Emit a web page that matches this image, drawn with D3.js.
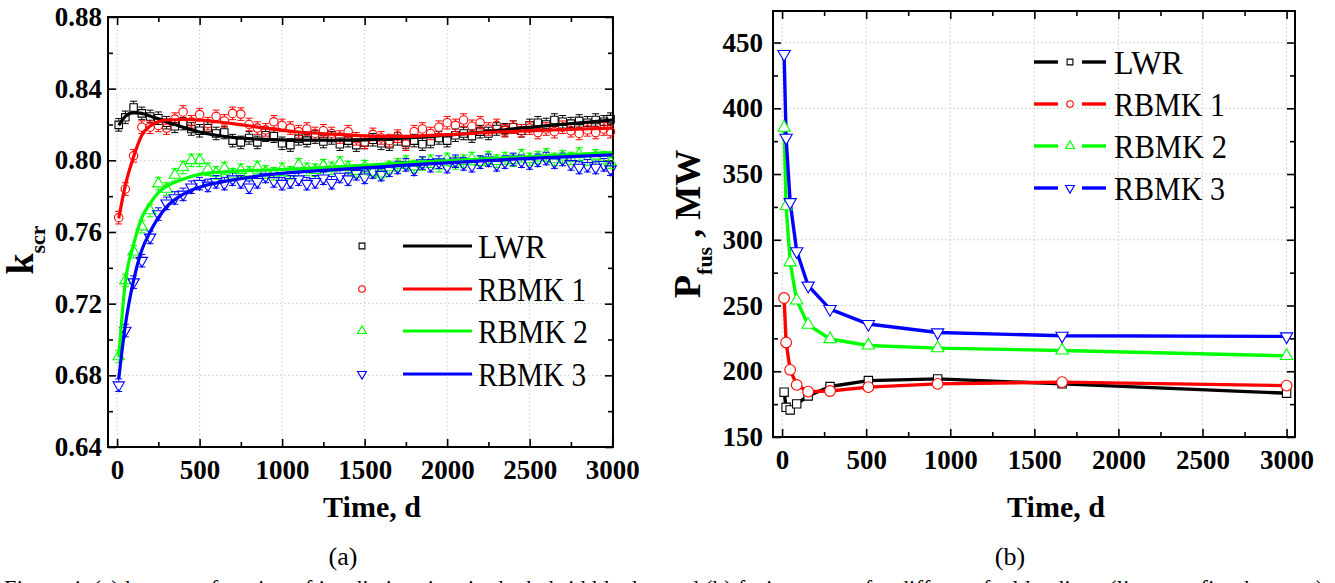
<!DOCTYPE html>
<html>
<head>
<meta charset="utf-8">
<script src="https://cdn.jsdelivr.net/npm/d3@7"></script>
<style>
  body { margin: 0; background: #fff; }
  svg { display: block; }
</style>
</head>
<body>
<svg id="chart" width="1335" height="583"></svg>
<script>
// series shared by both panels
const seriesNames = ['LWR', 'RBMK 1', 'RBMK 2', 'RBMK 3'];
const seriesColors = ['#000000', '#ff0000', '#00ff00', '#0000ff'];
const seriesMarkers = ['square', 'circle', 'up', 'down'];

// panel (a): k_scr vs time, calculated points (+/- error) and fitted curves
const kTime = [10, 50, 100, 150, 200, 250, 300, 350, 400, 450, 500, 550, 600, 650, 700, 750, 800, 850, 900, 950,
  1000, 1050, 1100, 1150, 1200, 1250, 1300, 1350, 1400, 1450, 1500, 1550, 1600, 1650, 1700, 1750, 1800, 1850, 1900, 1950,
  2000, 2050, 2100, 2150, 2200, 2250, 2300, 2350, 2400, 2450, 2500, 2550, 2600, 2650, 2700, 2750, 2800, 2850, 2900, 2950, 2990];
const kLWR = [0.8198, 0.8240, 0.8295, 0.8262, 0.8245, 0.8235, 0.8210, 0.8190, 0.8205, 0.8175, 0.8165, 0.8180, 0.8150, 0.8155, 0.8110, 0.8100, 0.8125, 0.8100, 0.8140, 0.8135,
  0.8095, 0.8085, 0.8120, 0.8110, 0.8130, 0.8105, 0.8125, 0.8090, 0.8110, 0.8085, 0.8100, 0.8115, 0.8095, 0.8090, 0.8120, 0.8100, 0.8110, 0.8090, 0.8105, 0.8125,
  0.8110, 0.8140, 0.8150, 0.8135, 0.8160, 0.8150, 0.8175, 0.8170, 0.8185, 0.8165, 0.8195, 0.8210, 0.8200, 0.8225, 0.8215, 0.8205, 0.8220, 0.8210, 0.8225, 0.8215, 0.8230];
const kRBMK1 = [0.7680, 0.7840, 0.8025, 0.8185, 0.8185, 0.8195, 0.8180, 0.8230, 0.8270, 0.8215, 0.8255, 0.8205, 0.8245, 0.8220, 0.8262, 0.8258, 0.8200, 0.8180, 0.8170, 0.8215,
  0.8195, 0.8180, 0.8160, 0.8175, 0.8150, 0.8165, 0.8150, 0.8130, 0.8160, 0.8120, 0.8100, 0.8145, 0.8125, 0.8110, 0.8135, 0.8090, 0.8160, 0.8175, 0.8150, 0.8185,
  0.8210, 0.8195, 0.8225, 0.8190, 0.8210, 0.8175, 0.8195, 0.8165, 0.8185, 0.8165, 0.8180, 0.8155, 0.8175, 0.8160, 0.8185, 0.8165, 0.8150, 0.8170, 0.8155, 0.8175, 0.8160];
const kRBMK2 = [0.6905, 0.7330, 0.7490, 0.7630, 0.7720, 0.7870, 0.7840, 0.7918, 0.7960, 0.8000, 0.8000, 0.7950, 0.7930, 0.7955, 0.7920, 0.7945, 0.7930, 0.7960, 0.7935, 0.7925,
  0.7950, 0.7930, 0.7975, 0.7950, 0.7945, 0.7970, 0.7955, 0.7985, 0.7960, 0.7940, 0.7965, 0.7935, 0.7925, 0.7960, 0.7975, 0.7990, 0.7965, 0.7980, 0.7995, 0.7970,
  0.8005, 0.7985, 0.7995, 0.8010, 0.7990, 0.8015, 0.7995, 0.8010, 0.8000, 0.8025, 0.8005, 0.8015, 0.8030, 0.8005, 0.8020, 0.8010, 0.8035, 0.8005, 0.8025, 0.8015, 0.7990];
const kRBMK3 = [0.6745, 0.7050, 0.7320, 0.7440, 0.7570, 0.7700, 0.7760, 0.7790, 0.7810, 0.7850, 0.7870, 0.7860, 0.7880, 0.7870, 0.7895, 0.7880, 0.7850, 0.7880, 0.7910, 0.7885,
  0.7870, 0.7880, 0.7895, 0.7870, 0.7880, 0.7900, 0.7875, 0.7910, 0.7895, 0.7925, 0.7905, 0.7935, 0.7920, 0.7945, 0.7960, 0.7975, 0.7950, 0.7985, 0.7970, 0.7990,
  0.7965, 0.7995, 0.7980, 0.7970, 0.7990, 0.8000, 0.7975, 0.7990, 0.8005, 0.7995, 0.7985, 0.8000, 0.8010, 0.7990, 0.8005, 0.7980, 0.7960, 0.7970, 0.7960, 0.7975, 0.7950];
const kError = 0.0035;

const fitTime = [10, 50, 100, 150, 200, 250, 300, 400, 500, 700, 900, 1100, 1300, 1500, 1700, 2000, 2300, 2600, 3000];
const fitLWR = [0.8195, 0.8245, 0.8266, 0.8262, 0.8248, 0.8232, 0.8215, 0.8185, 0.8158, 0.8128, 0.8117, 0.8113, 0.8112, 0.8114, 0.8122, 0.8140, 0.8166, 0.8193, 0.8225];
const fitRBMK1 = [0.7676, 0.7860, 0.8020, 0.8140, 0.8192, 0.8215, 0.8225, 0.8228, 0.8225, 0.8205, 0.8180, 0.8158, 0.8146, 0.8137, 0.8134, 0.8143, 0.8158, 0.8168, 0.8180];
const fitRBMK2 = [0.6900, 0.7320, 0.7530, 0.7680, 0.7760, 0.7820, 0.7855, 0.7895, 0.7922, 0.7938, 0.7946, 0.7953, 0.7962, 0.7972, 0.7983, 0.7997, 0.8011, 0.8025, 0.8043];
const fitRBMK3 = [0.6780, 0.7080, 0.7330, 0.7500, 0.7600, 0.7680, 0.7740, 0.7810, 0.7850, 0.7890, 0.7918, 0.7935, 0.7947, 0.7958, 0.7970, 0.7986, 0.8002, 0.8015, 0.8030];

// panel (b): fusion power vs time
const pTime = [12, 24, 48, 87, 155, 285, 513, 925, 1665, 3000];
const pLWR = [184.1, 172.6, 170.6, 175.2, 181.2, 188.4, 192.9, 194.2, 190.4, 183.3];
const pRBMK1 = [255.7, 221.9, 201.1, 189.6, 184.5, 185.0, 187.9, 190.4, 191.7, 189.1];
const pRBMK2 = [385.3, 325.5, 282.9, 253.9, 235.4, 224.5, 219.6, 217.6, 215.8, 211.7];
const pRBMK3 = [441.2, 377.6, 328.6, 291.2, 265.1, 247.3, 235.9, 229.5, 227.0, 226.5];

// ticks
const timeTicks = [0, 500, 1000, 1500, 2000, 2500, 3000];
const timeMinor = [250, 750, 1250, 1750, 2250, 2750];
const kTicks = [0.64, 0.68, 0.72, 0.76, 0.80, 0.84, 0.88];
const kMinor = [0.66, 0.70, 0.74, 0.78, 0.82, 0.86];
const pTicks = [150, 200, 250, 300, 350, 400, 450];
const pMinor = [175, 225, 275, 325, 375, 425];

const serif = "'Liberation Serif', 'Times New Roman', serif";
const svg = d3.select('#chart');

function markerPath(kind, size) {
  if (kind === 'square') return d3.symbol(d3.symbolSquare, size)();
  if (kind === 'circle') return d3.symbol(d3.symbolCircle, size)();
  return d3.symbol(d3.symbolTriangle, size)();
}

function addMarker(g, kind, cx, cy, size, color, fill) {
  g.append('path')
    .attr('d', markerPath(kind, size))
    .attr('transform', `translate(${cx},${cy})` + (kind === 'down' ? ' rotate(180)' : ''))
    .attr('fill', fill)
    .attr('stroke', color)
    .attr('stroke-width', 1.1);
}

function drawFrame(g, x, y, o) {
  var x0 = x.range()[0], x1 = x.range()[1];
  var y0 = y.range()[0], y1 = y.range()[1];

  // dotted grid at major ticks
  g.append('g').selectAll('line').data(o.xTicks).join('line')
    .attr('x1', d => x(d)).attr('x2', d => x(d))
    .attr('y1', y0).attr('y2', y1)
    .attr('stroke', '#c8c8c8').attr('stroke-dasharray', '1.5,2.5');
  g.append('g').selectAll('line').data(o.yTicks).join('line')
    .attr('x1', x0).attr('x2', x1)
    .attr('y1', d => y(d)).attr('y2', d => y(d))
    .attr('stroke', '#c8c8c8').attr('stroke-dasharray', '1.5,2.5');

  var styleAxis = a => {
    a.select('.domain').remove();
    a.selectAll('line').attr('stroke-width', 1.6);
    a.attr('font-family', serif).attr('font-size', o.fontSize).attr('font-weight', 'bold');
  };

  g.append('g').attr('transform', `translate(0,${y0})`)
    .call(d3.axisBottom(x).tickValues(o.xTicks).tickSizeInner(-8).tickSizeOuter(0).tickPadding(o.xPad).tickFormat(d3.format('d')))
    .call(styleAxis);
  g.append('g').attr('transform', `translate(0,${y0})`)
    .call(d3.axisBottom(x).tickValues(o.xMinor).tickSize(-5).tickFormat(''))
    .call(styleAxis);
  g.append('g').attr('transform', `translate(0,${y1})`)
    .call(d3.axisTop(x).tickValues(o.xTicks).tickSize(-8).tickFormat(''))
    .call(styleAxis);
  g.append('g').attr('transform', `translate(0,${y1})`)
    .call(d3.axisTop(x).tickValues(o.xMinor).tickSize(-5).tickFormat(''))
    .call(styleAxis);

  g.append('g').attr('transform', `translate(${x0},0)`)
    .call(d3.axisLeft(y).tickValues(o.yTicks).tickSizeInner(-8).tickSizeOuter(0).tickPadding(o.yPad).tickFormat(o.yFormat))
    .call(styleAxis);
  g.append('g').attr('transform', `translate(${x0},0)`)
    .call(d3.axisLeft(y).tickValues(o.yMinor).tickSize(-5).tickFormat(''))
    .call(styleAxis);
  g.append('g').attr('transform', `translate(${x1},0)`)
    .call(d3.axisRight(y).tickValues(o.yTicks).tickSize(-8).tickFormat(''))
    .call(styleAxis);
  g.append('g').attr('transform', `translate(${x1},0)`)
    .call(d3.axisRight(y).tickValues(o.yMinor).tickSize(-5).tickFormat(''))
    .call(styleAxis);

  g.append('rect')
    .attr('x', x0).attr('y', y1)
    .attr('width', x1 - x0).attr('height', y0 - y1)
    .attr('fill', 'none').attr('stroke', '#000').attr('stroke-width', 2);
}

// ---------- panel (a) ----------
var xA = d3.scaleLinear().domain([-55, 3005]).range([108, 613]);
var yA = d3.scaleLinear().domain([0.64, 0.88]).range([447, 17]);
var gA = svg.append('g');

drawFrame(gA, xA, yA, {
  xTicks: timeTicks, xMinor: timeMinor, yTicks: kTicks, yMinor: kMinor,
  yFormat: d3.format('.2f'), fontSize: 27, xPad: 13, yPad: 6
});

var kPoints = [kLWR, kRBMK1, kRBMK2, kRBMK3];
var kFits = [fitLWR, fitRBMK1, fitRBMK2, fitRBMK3];
var markA = 56;

kPoints.forEach((vals, i) => {
  var g = gA.append('g');
  var color = seriesColors[i];
  vals.forEach((v, j) => {
    var cx = xA(kTime[j]), cy = yA(v);
    var top = yA(v + kError), bot = yA(v - kError);
    g.append('line').attr('x1', cx).attr('x2', cx).attr('y1', top).attr('y2', cy - 4)
      .attr('stroke', color).attr('stroke-width', 1);
    g.append('line').attr('x1', cx).attr('x2', cx).attr('y1', cy + 4).attr('y2', bot)
      .attr('stroke', color).attr('stroke-width', 1);
    g.append('line').attr('x1', cx - 3.5).attr('x2', cx + 3.5).attr('y1', top).attr('y2', top)
      .attr('stroke', color).attr('stroke-width', 1);
    g.append('line').attr('x1', cx - 3.5).attr('x2', cx + 3.5).attr('y1', bot).attr('y2', bot)
      .attr('stroke', color).attr('stroke-width', 1);
    addMarker(g, seriesMarkers[i], cx, cy, markA, color, 'none');
  });
});

var fitLine = d3.line()
  .x((d, j) => xA(fitTime[j]))
  .y(d => yA(d))
  .curve(d3.curveMonotoneX);

kFits.forEach((vals, i) => {
  gA.append('path')
    .attr('d', fitLine(vals))
    .attr('fill', 'none')
    .attr('stroke', seriesColors[i])
    .attr('stroke-width', 3.2);
});

// legend (a)
var legA = [246, 289, 331, 374];
seriesNames.forEach((name, i) => {
  addMarker(gA, seriesMarkers[i], 362, legA[i], 34, seriesColors[i], 'none');
  gA.append('line')
    .attr('x1', 403).attr('x2', 472).attr('y1', legA[i]).attr('y2', legA[i])
    .attr('stroke', seriesColors[i]).attr('stroke-width', 3.2);
  gA.append('text')
    .attr('x', 478).attr('y', legA[i] + 11.5)
    .attr('font-family', serif).attr('font-size', 34)
    .attr('textLength', [68, 108, 110, 108][i]).attr('lengthAdjust', 'spacingAndGlyphs')
    .text(name);
});

// axis titles (a)
var kLabel = svg.append('text')
  .attr('transform', 'translate(33,250) rotate(-90)')
  .attr('text-anchor', 'middle')
  .attr('font-family', serif).attr('font-weight', 'bold');
kLabel.append('tspan').attr('font-size', 38).text('k');
kLabel.append('tspan').attr('font-size', 22).attr('dy', 12).text('scr');

svg.append('text')
  .attr('x', 372).attr('y', 517)
  .attr('text-anchor', 'middle')
  .attr('font-family', serif).attr('font-weight', 'bold').attr('font-size', 30)
  .text('Time, d');

svg.append('text')
  .attr('x', 343).attr('y', 565)
  .attr('text-anchor', 'middle')
  .attr('font-family', serif).attr('font-size', 26)
  .text('(a)');

// ---------- panel (b) ----------
var xB = d3.scaleLinear().domain([-54, 3050]).range([773, 1295]);
var yB = d3.scaleLinear().domain([150, 474]).range([437, 11]);
var gB = svg.append('g');

drawFrame(gB, xB, yB, {
  xTicks: timeTicks, xMinor: timeMinor, yTicks: pTicks, yMinor: pMinor,
  yFormat: d3.format('d'), fontSize: 27, xPad: 13, yPad: 10
});

var pSeries = [pLWR, pRBMK1, pRBMK2, pRBMK3];
var pLine = d3.line()
  .x((d, j) => xB(pTime[j]))
  .y(d => yB(d));
var markB = [70, 90, 66, 66];

pSeries.forEach((vals, i) => {
  gB.append('path')
    .attr('d', pLine(vals))
    .attr('fill', 'none')
    .attr('stroke', seriesColors[i])
    .attr('stroke-width', 3.4)
    .attr('stroke-linejoin', 'round');
});
pSeries.forEach((vals, i) => {
  vals.forEach((v, j) => {
    addMarker(gB, seriesMarkers[i], xB(pTime[j]), yB(v), markB[i], seriesColors[i], '#fff');
  });
});

// legend (b)
var legB = [62, 104, 146, 188];
seriesNames.forEach((name, i) => {
  gB.append('line')
    .attr('x1', 1034).attr('x2', 1058).attr('y1', legB[i]).attr('y2', legB[i])
    .attr('stroke', seriesColors[i]).attr('stroke-width', 3.4);
  gB.append('line')
    .attr('x1', 1082).attr('x2', 1106).attr('y1', legB[i]).attr('y2', legB[i])
    .attr('stroke', seriesColors[i]).attr('stroke-width', 3.4);
  addMarker(gB, seriesMarkers[i], 1070, legB[i], 34, seriesColors[i], '#fff');
  gB.append('text')
    .attr('x', 1114).attr('y', legB[i] + 12)
    .attr('font-family', serif).attr('font-size', 34)
    .attr('textLength', [69, 111, 113, 111][i]).attr('lengthAdjust', 'spacingAndGlyphs')
    .text(name);
});

// axis titles (b)
var pLabel = svg.append('text')
  .attr('transform', 'translate(700,224) rotate(-90)')
  .attr('text-anchor', 'middle')
  .attr('font-family', serif).attr('font-weight', 'bold');
pLabel.append('tspan').attr('font-size', 38).text('P');
pLabel.append('tspan').attr('font-size', 22).attr('dy', 12).text('fus');
pLabel.append('tspan').attr('font-size', 36).attr('dy', -12).text(' , MW');

svg.append('text')
  .attr('x', 1056).attr('y', 517)
  .attr('text-anchor', 'middle')
  .attr('font-family', serif).attr('font-weight', 'bold').attr('font-size', 30)
  .text('Time, d');

svg.append('text')
  .attr('x', 1010).attr('y', 565)
  .attr('text-anchor', 'middle')
  .attr('font-family', serif).attr('font-size', 26)
  .text('(b)');

// figure caption, cut off by the bottom edge of the picture
svg.append('text')
  .attr('x', 4).attr('y', 595)
  .attr('font-family', serif).attr('font-size', 22)
  .attr('textLength', 1325).attr('lengthAdjust', 'spacing')
  .text('Figure 4. (a) kscr as a function of irradiation time in the hybrid blanket and (b) fusion power for different fuel loadings (lines are fitted curves).');
</script>
</body>
</html>
